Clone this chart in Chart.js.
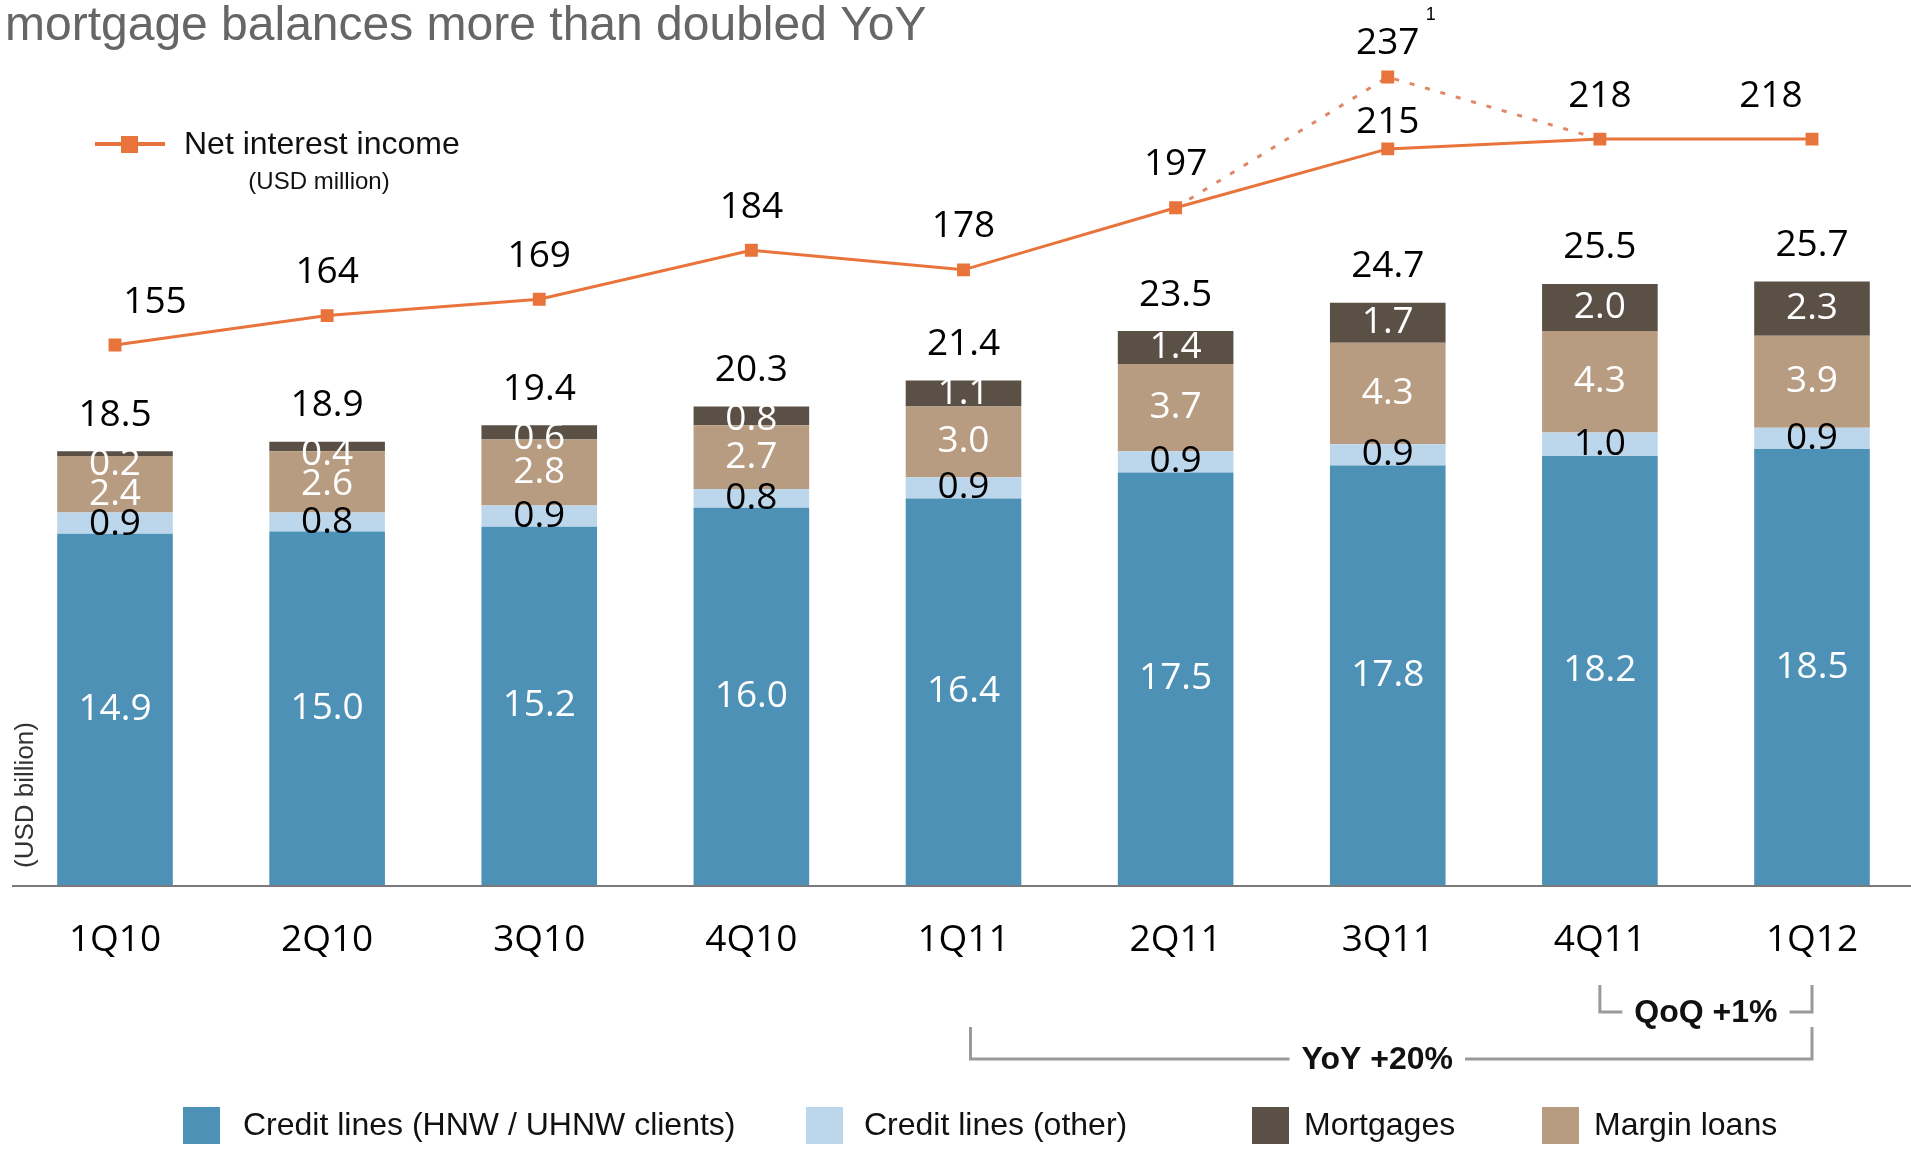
<!DOCTYPE html>
<html lang="en">
<head>
    <meta charset="utf-8" />
    <title>Mortgage balances more than doubled YoY</title>
    <script src="https://cdn.jsdelivr.net/npm/chart.js"></script>
    <style>
        html, body { margin: 0; padding: 0; background: #fff; overflow: hidden; }
        #wrap { width: 1911px; height: 1151px; }
    </style>
</head>
<body>
    <div id="wrap"><canvas id="chart" width="1911" height="1151"></canvas></div>

    <script>
        // balances in USD billion, net interest income in USD million
        const quarters = ['1Q10', '2Q10', '3Q10', '4Q10', '1Q11', '2Q11', '3Q11', '4Q11', '1Q12'];
        const creditHnw = [14.9, 15.0, 15.2, 16.0, 16.4, 17.5, 17.8, 18.2, 18.5];
        const creditOther = [0.9, 0.8, 0.9, 0.8, 0.9, 0.9, 0.9, 1.0, 0.9];
        const marginLoans = [2.4, 2.6, 2.8, 2.7, 3.0, 3.7, 4.3, 4.3, 3.9];
        const mortgages = [0.2, 0.4, 0.6, 0.8, 1.1, 1.4, 1.7, 2.0, 2.3];
        const totals = [18.5, 18.9, 19.4, 20.3, 21.4, 23.5, 24.7, 25.5, 25.7];
        const netInterest = [155, 164, 169, 184, 178, 197, 215, 218, 218];
        const netInterestReported = [null, null, null, null, null, 197, 237, 218, null];

        const COLORS = {
            hnw: '#4d91b6',
            other: '#bcd6ec',
            margin: '#b89c81',
            mortgage: '#5a5045',
            line: '#e8743b',
            dotted: 'rgba(218, 114, 76, 0.85)',
            bracket: '#9a9a9a'
        };
        const NUM_FONT = '500 37px "Open Sans"';
        const TXT_FONT = '"Liberation Sans", Arial, sans-serif';

        // label nudges for the NII line (px)
        const niiDx = [40, 0, 0, 0, 0, 0, 0, 0, -41];
        const niiDy = [-43, -43, -43, -43, -43, -43, -26, -43, -43];

        const decor = {
            id: 'decor',
            afterDatasetsDraw(chart) {
                const ctx = chart.ctx;
                const xs = chart.scales.x;
                const ys = chart.scales.y;
                const base = ys.getPixelForValue(0);
                ctx.save();

                // axis line
                ctx.strokeStyle = '#7a7a7a';
                ctx.lineWidth = 2;
                ctx.beginPath();
                ctx.moveTo(12, base + 1);
                ctx.lineTo(1911, base + 1);
                ctx.stroke();

                ctx.textAlign = 'center';
                ctx.textBaseline = 'middle';
                ctx.font = NUM_FONT;

                // category labels
                ctx.fillStyle = '#000';
                quarters.forEach((q, i) => ctx.fillText(q, xs.getPixelForValue(i), base + 55));

                // segment labels
                const mHnw = chart.getDatasetMeta(2).data;
                const mOther = chart.getDatasetMeta(3).data;
                const mMargin = chart.getDatasetMeta(4).data;
                const mMort = chart.getDatasetMeta(5).data;
                quarters.forEach((q, i) => {
                    const cx = mHnw[i].x;
                    const top = mMort[i].y;
                    const segs = [
                        [mMort[i], mortgages[i], '#fff'],
                        [mMargin[i], marginLoans[i], '#fff'],
                        [mOther[i], creditOther[i], '#000']
                    ];
                    let limit = top + 13;
                    segs.forEach(([el, v, col]) => {
                        const c = Math.max((el.y + el.base) / 2, limit);
                        ctx.fillStyle = col;
                        ctx.fillText(v.toFixed(1), cx, c);
                        limit = c + 30;
                    });
                    ctx.fillStyle = '#fff';
                    ctx.fillText(creditHnw[i].toFixed(1), cx, (mHnw[i].y + mHnw[i].base) / 2);
                    // totals
                    ctx.fillStyle = '#000';
                    ctx.fillText(totals[i].toFixed(1), cx, top - 36);
                });

                // NII labels
                const nii = chart.getDatasetMeta(1).data;
                nii.forEach((p, i) => {
                    ctx.fillText(String(netInterest[i]), p.x + niiDx[i], p.y + niiDy[i]);
                });
                const rep = chart.getDatasetMeta(0).data[6];
                ctx.fillText(String(netInterestReported[6]), rep.x, rep.y - 34);
                ctx.font = '18px ' + TXT_FONT;
                ctx.fillText('1', rep.x + 43, rep.y - 62);

                // title
                ctx.textAlign = 'left';
                ctx.textBaseline = 'alphabetic';
                ctx.fillStyle = '#666';
                ctx.font = '48px ' + TXT_FONT;
                ctx.fillText('mortgage balances more than doubled YoY', 5, 40);

                // top legend (line)
                ctx.strokeStyle = COLORS.line;
                ctx.lineWidth = 4;
                ctx.beginPath();
                ctx.moveTo(95, 144);
                ctx.lineTo(165, 144);
                ctx.stroke();
                ctx.fillStyle = COLORS.line;
                ctx.fillRect(121, 136, 17, 17);
                ctx.fillStyle = '#111';
                ctx.textBaseline = 'middle';
                ctx.font = '32px ' + TXT_FONT;
                ctx.fillText('Net interest income', 184, 145);
                ctx.textAlign = 'center';
                ctx.font = '24px ' + TXT_FONT;
                ctx.fillText('(USD million)', 319, 182);

                // y axis unit
                ctx.save();
                ctx.translate(26, 795);
                ctx.rotate(-Math.PI / 2);
                ctx.fillStyle = '#333';
                ctx.font = '26px ' + TXT_FONT;
                ctx.fillText('(USD billion)', 0, 0);
                ctx.restore();

                // brackets
                const bracket = (ia, ib, yTop, yLine, text, dxa, dmid) => {
                    const xa = xs.getPixelForValue(ia) + dxa;
                    const xb = xs.getPixelForValue(ib);
                    const mid = (xa + xb) / 2 + dmid;
                    ctx.font = 'bold 32px ' + TXT_FONT;
                    const w = ctx.measureText(text).width;
                    ctx.strokeStyle = COLORS.bracket;
                    ctx.lineWidth = 3;
                    ctx.beginPath();
                    ctx.moveTo(xa, yTop);
                    ctx.lineTo(xa, yLine);
                    ctx.lineTo(mid - w / 2 - 12, yLine);
                    ctx.moveTo(mid + w / 2 + 12, yLine);
                    ctx.lineTo(xb, yLine);
                    ctx.lineTo(xb, yTop);
                    ctx.stroke();
                    ctx.fillStyle = '#111';
                    ctx.textAlign = 'center';
                    ctx.fillText(text, mid, yLine + 1);
                };
                bracket(7, 8, 985, 1012, 'QoQ +1%', 0, 0);
                bracket(4, 8, 1027, 1059, 'YoY +20%', 7, -14);

                // bottom legend
                const items = [
                    [183, 243, COLORS.hnw, 'Credit lines (HNW / UHNW clients)'],
                    [806, 864, COLORS.other, 'Credit lines (other)'],
                    [1252, 1304, COLORS.mortgage, 'Mortgages'],
                    [1542, 1594, COLORS.margin, 'Margin loans']
                ];
                ctx.textAlign = 'left';
                ctx.font = '32px ' + TXT_FONT;
                items.forEach(([sx, tx, col, text]) => {
                    ctx.fillStyle = col;
                    ctx.fillRect(sx, 1107, 37, 37);
                    ctx.fillStyle = '#111';
                    ctx.fillText(text, tx, 1126);
                });

                ctx.restore();
            }
        };

        new Chart(document.getElementById('chart'), {
            type: 'bar',
            data: {
                labels: quarters,
                datasets: [
                    {
                        type: 'line',
                        label: 'Net interest income (reported)',
                        data: netInterestReported,
                        yAxisID: 'y2',
                        borderColor: COLORS.dotted,
                        borderWidth: 3,
                        borderDash: [5, 11],
                        pointStyle: 'rect',
                        pointRadius: netInterestReported.map((v, i) => i === 6 ? 7 : 0),
                        pointBackgroundColor: COLORS.line,
                        pointBorderColor: COLORS.line,
                        clip: false,
                        order: 0
                    },
                    {
                        type: 'line',
                        label: 'Net interest income',
                        data: netInterest,
                        yAxisID: 'y2',
                        borderColor: COLORS.line,
                        borderWidth: 3,
                        pointStyle: 'rect',
                        pointRadius: 7,
                        pointBackgroundColor: COLORS.line,
                        pointBorderColor: COLORS.line,
                        clip: false,
                        order: 0
                    },
                    { label: 'Credit lines (HNW / UHNW clients)', data: creditHnw, backgroundColor: COLORS.hnw, clip: false, order: 1 },
                    { label: 'Credit lines (other)', data: creditOther, backgroundColor: COLORS.other, clip: false, order: 1 },
                    { label: 'Margin loans', data: marginLoans, backgroundColor: COLORS.margin, clip: false, order: 1 },
                    { label: 'Mortgages', data: mortgages, backgroundColor: COLORS.mortgage, clip: false, order: 1 }
                ]
            },
            options: {
                responsive: false,
                animation: false,
                events: [],
                layout: { padding: { left: 115, right: 99, top: 60, bottom: 266 } },
                datasets: { bar: { barPercentage: 0.545, categoryPercentage: 1 } },
                plugins: {
                    legend: { display: false },
                    tooltip: { enabled: false }
                },
                scales: {
                    x: { display: false, stacked: true, offset: false },
                    y: { display: false, stacked: true, min: 0, max: 35 },
                    y2: { display: false, min: -10.2, max: 242.2 }
                }
            },
            plugins: [decor]
        });
    </script>
</body>
</html>
